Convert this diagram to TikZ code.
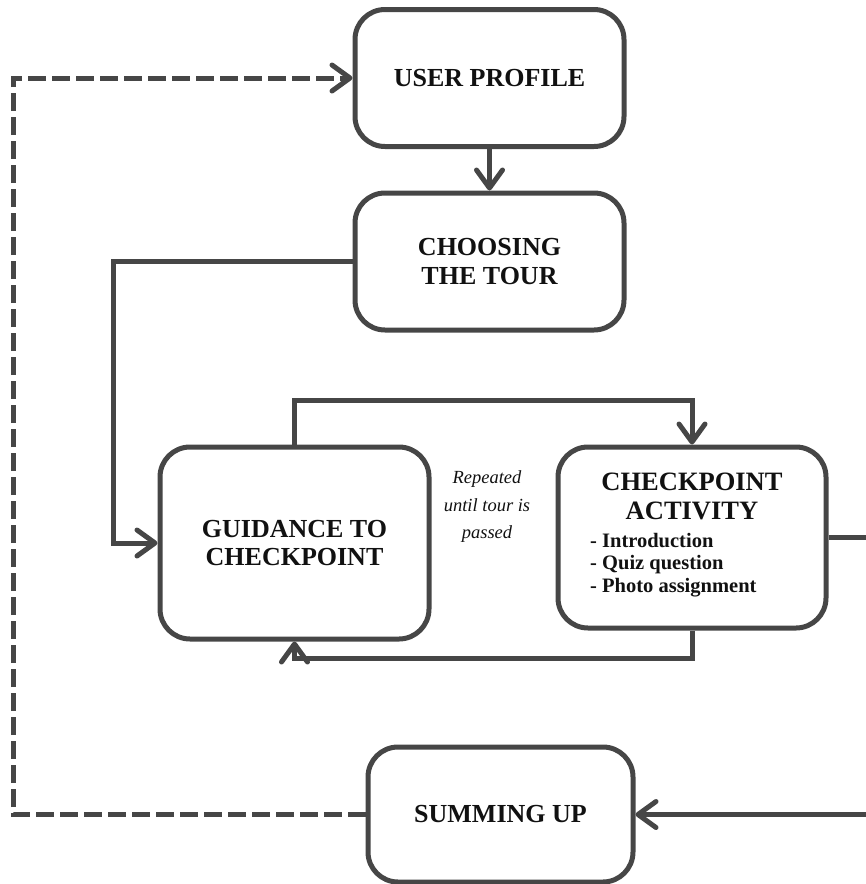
\documentclass[tikz,border=0pt]{standalone}
\usepackage{fontspec}
\setmainfont{Liberation Serif}
\usetikzlibrary{arrows.meta}
\definecolor{ink}{RGB}{70,70,70}
\definecolor{txt}{RGB}{17,17,17}
\tikzset{
  stagebox/.style={draw=ink, line width=5pt, rounded corners=30pt, fill=white,
    align=center, text=txt, inner sep=0pt,
    font=\bfseries\fontsize{26}{28.5}\selectfont},
  linetxt/.style={inner sep=0pt, text=txt},
  headtxt/.style={linetxt, font=\bfseries\fontsize{26.5}{28.5}\selectfont},
  listtxt/.style={linetxt, font=\bfseries\fontsize{20.5}{22}\selectfont},
  notetxt/.style={linetxt, font=\itshape\fontsize{18.5}{27}\selectfont},
  barb/.tip={Straight Barb[length=18pt, width=26pt, line width=5pt, round]},
  wire/.style={draw=ink, line width=5pt},
  conn/.style={wire, -barb},
  connback/.style={conn, dash pattern=on 18pt off 6pt},
}
\begin{document}
\begin{tikzpicture}[x=1pt, y=-1pt]
\useasboundingbox (0,0) rectangle (866,884);
\clip (0,0) rectangle (866,884);

% stages
\node[stagebox, minimum width=269pt, minimum height=137pt] (up) at (489.5,78) {USER PROFILE};
\node[stagebox, minimum width=269pt, minimum height=137pt] (tour) at (489.5,261.5) {CHOOSING\\THE TOUR};
\node[stagebox, minimum width=269pt, minimum height=192pt] (guide) at (294.5,543) {GUIDANCE TO\\CHECKPOINT};
\node[stagebox, minimum width=268pt, minimum height=181pt] (act) at (692,537.5) {};
\node[stagebox, minimum width=265pt, minimum height=135pt] (sum) at (500.5,814.5) {SUMMING UP};

% contents of the checkpoint activity box
\node[headtxt, anchor=base] (actA) at (692,490) {CHECKPOINT};
\node[headtxt, anchor=base] (actB) at (692,519) {ACTIVITY};
\node[listtxt, anchor=base west] (actL1) at (590,547) {- Introduction};
\node[listtxt, anchor=base west] (actL2) at (590,569) {- Quiz question};
\node[listtxt, anchor=base west] (actL3) at (590,592) {- Photo assignment};

% loop note
\node[notetxt, anchor=base] (note1) at (487,483) {Repeated};
\node[notetxt, anchor=base] (note2) at (487,511) {until tour is};
\node[notetxt, anchor=base] (note3) at (487,538) {passed};

% routing guides
\coordinate (lx) at (113,0);
\coordinate (ty) at (0,400);
\coordinate (by) at (0,658);
\coordinate (rx) at (885,0);
\coordinate (dx) at (13,0);

% connectors
\draw[conn] (up.south) -- (tour.north);
\draw[conn] (tour.west) -- (tour.west -| lx) |- (guide.west);
\draw[conn] (guide.north) -- (guide.north |- ty) -| (act.north);
% return loop: the last leg is short, so its tip is drawn on its own
\draw[wire, line join=miter] (act.south) -- (act.south |- by) -- (guide.south |- by);
\draw[conn] (guide.south |- by) ++(0,2.5) -- (guide.south);
\draw[conn] (act.east) -- (act.east -| rx) |- (sum.east);
\draw[connback] (sum.west) -- (sum.west -| dx) |- (up.west);
\end{tikzpicture}
\end{document}
